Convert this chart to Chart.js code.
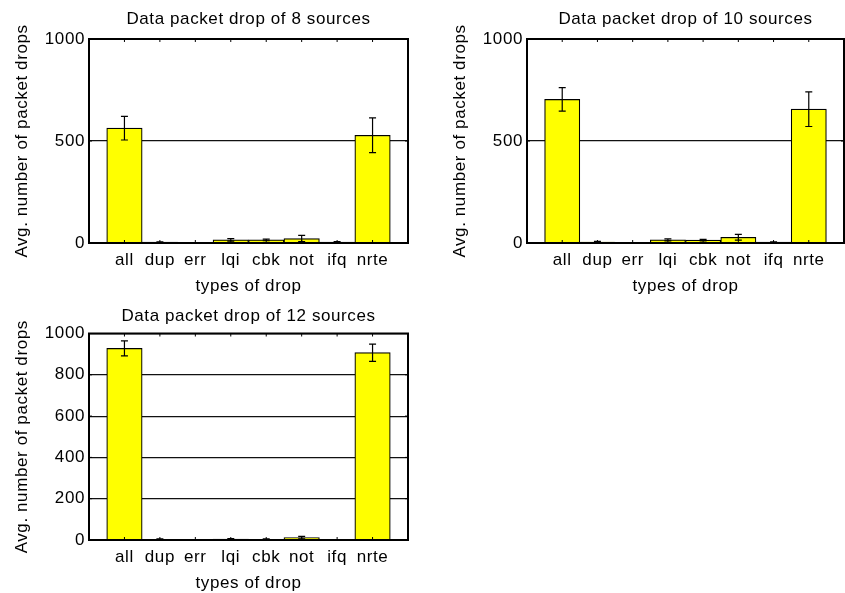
<!DOCTYPE html>
<html>
<head>
<meta charset="utf-8">
<script src="https://cdn.jsdelivr.net/npm/chart.js@4/dist/chart.umd.min.js"></script>
<style>
	body { margin: 0; background: #fff; }
	#contenedor { position: relative; width: 845px; height: 593px; overflow: hidden; }
	canvas { position: absolute; }
</style>
</head>
<body>
<div id="contenedor">
	<canvas id="plot1" width="420" height="295" style="left:0;top:0"></canvas>
	<canvas id="plot2" width="407" height="295" style="left:438px;top:0"></canvas>
	<canvas id="plot3" width="420" height="298" style="left:0;top:295px"></canvas>
</div>
<script>
//Tipos de caida (eje x)
const tipos = ['all', 'dup', 'err', 'lqi', 'cbk', 'not', 'ifq', 'nrte'];

//Promedio de paquetes perdidos y su error, 8 fuentes
const caidas8 = [563, 4, 0, 15, 15, 22, 4, 528];
const error8 = [58, 2, 1, 6, 4, 15, 3, 85];

//10 fuentes
const caidas10 = [704, 5, 0, 15, 14, 28, 4, 656];
const error10 = [58, 3, 1, 5, 4, 14, 2, 85];

//12 fuentes
const caidas12 = [928, 3, 0, 4, 3, 12, 1, 907];
const error12 = [36, 2, 1, 3, 2, 6, 1, 42];

const fuente = { family: "'Liberation Sans', Arial, sans-serif", size: 17, weight: 'normal' };
Chart.defaults.font = fuente;
Chart.defaults.color = '#000';

//Espaciado entre letras, el canvas lo pierde cada vez que cambia de tamaño
const espaciado = {
	id: 'espaciado',
	beforeUpdate: chart => { chart.ctx.letterSpacing = '0.6px'; },
	beforeDraw: chart => { chart.ctx.letterSpacing = '0.6px'; }
};

//Barras de error sobre cada barra
const barrasError = {
	id: 'barrasError',
	afterDatasetsDraw(chart, args, opts) {
		const ctx = chart.ctx;
		const y = chart.scales.y;
		const valores = chart.data.datasets[0].data;
		ctx.save();
		ctx.strokeStyle = '#000';
		ctx.lineWidth = 1.2;
		chart.getDatasetMeta(0).data.forEach((barra, i) => {
			const v = valores[i];
			if (v == null) return;
			const e = opts.errores[i - 1];
			const yAlto = y.getPixelForValue(v + e);
			const yBajo = y.getPixelForValue(Math.max(v - e, 0));
			ctx.beginPath();
			ctx.moveTo(barra.x, yAlto); ctx.lineTo(barra.x, yBajo);
			ctx.moveTo(barra.x - 3.5, yAlto); ctx.lineTo(barra.x + 3.5, yAlto);
			ctx.moveTo(barra.x - 3.5, yBajo); ctx.lineTo(barra.x + 3.5, yBajo);
			ctx.stroke();
		});
		ctx.restore();
	}
};

//Marco del grafico con marcas hacia adentro
const marco = {
	id: 'marco',
	afterDraw(chart) {
		const {ctx, chartArea: {left, right, top, bottom}, scales: {x, y}} = chart;
		ctx.save();
		ctx.strokeStyle = '#000';
		ctx.lineWidth = 1;
		ctx.beginPath();
		for (let i = 1; i <= tipos.length; i++) {
			const px = x.getPixelForValue(i);
			ctx.moveTo(px, top); ctx.lineTo(px, top + 3);
			ctx.moveTo(px, bottom); ctx.lineTo(px, bottom - 3);
		}
		y.ticks.forEach(t => {
			const py = y.getPixelForValue(t.value);
			ctx.moveTo(left, py); ctx.lineTo(left + 3, py);
			ctx.moveTo(right, py); ctx.lineTo(right - 3, py);
		});
		ctx.stroke();
		ctx.lineWidth = 2;
		ctx.strokeRect(left, top, right - left, bottom - top);
		ctx.restore();
	}
};

let crearGrafico = (id, titulo, valores, errores, paso, ajuste) => {
	let plotRef = document.getElementById(id);

	let config = {
		type: 'bar',
		data: {
			labels: ['', ...tipos, ''],
			datasets: [{
				data: [null, ...valores, null],
				backgroundColor: '#ffff00',
				borderColor: '#000',
				borderWidth: 1.2,
				barPercentage: 1,
				categoryPercentage: 1
			}]
		},
		options: {
			responsive: false,
			animation: false,
			layout: { padding: { left: 0, right: ajuste.derecha, top: 0, bottom: 0 } },
			plugins: {
				legend: { display: false },
				tooltip: { enabled: false },
				title: {
					display: true,
					text: titulo,
					fullSize: false,
					color: '#000',
					font: fuente,
					padding: { top: ajuste.tituloArriba, bottom: ajuste.tituloAbajo }
				},
				barrasError: { errores: errores }
			},
			scales: {
				x: {
					offset: false,
					//sin rejilla; tickLength solo separa las etiquetas del eje
					grid: { display: false, offset: false, drawTicks: true, tickLength: 7 },
					border: { display: false },
					ticks: { padding: 0, autoSkip: false, maxRotation: 0, color: '#000' },
					title: { display: true, text: 'types of drop', color: '#000', padding: { top: 0, bottom: ajuste.ejeXAbajo } },
					afterFit: s => { s.height = ajuste.altoX; }
				},
				y: {
					min: 0,
					max: 1000,
					ticks: { stepSize: paso, padding: 4, color: '#000', callback: v => String(v) },
					grid: { color: '#111', lineWidth: 1.2, drawTicks: false },
					border: { display: false },
					title: { display: true, text: 'Avg. number of packet drops', color: '#000', padding: { top: 12, bottom: 0 } },
					afterFit: s => { s.width = 89; }
				}
			}
		},
		plugins: [espaciado, barrasError, marco]
	};

	return new Chart(plotRef, config);
};

crearGrafico('plot1', 'Data packet drop of 8 sources', caidas8, error8, 500,
	{ derecha: 12, tituloArriba: 9.6, tituloAbajo: 9, altoX: 52, ejeXAbajo: -2 });
crearGrafico('plot2', 'Data packet drop of 10 sources', caidas10, error10, 500,
	{ derecha: 1, tituloArriba: 9.6, tituloAbajo: 9, altoX: 52, ejeXAbajo: -2 });
crearGrafico('plot3', 'Data packet drop of 12 sources', caidas12, error12, 200,
	{ derecha: 12, tituloArriba: 11.4, tituloAbajo: 6.7, altoX: 53, ejeXAbajo: -1 });
</script>
</body>
</html>
